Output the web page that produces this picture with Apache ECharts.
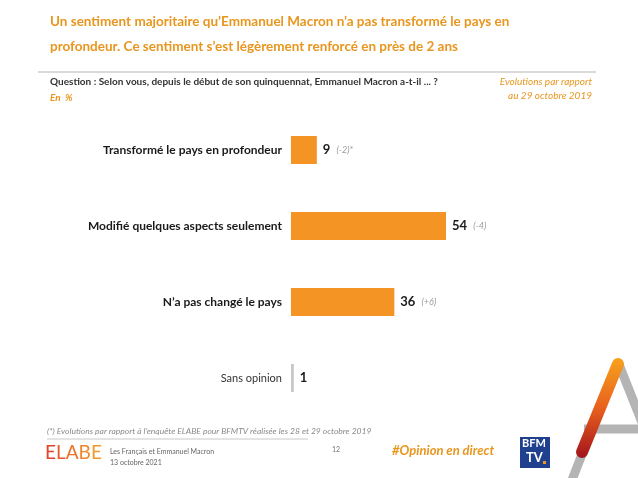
<!DOCTYPE html>
<html>
<head>
<meta charset="utf-8">
<script src="https://cdn.jsdelivr.net/npm/echarts@6/dist/echarts.min.js"></script>
<style>
  html, body { margin: 0; padding: 0; background: #fff; }
  #chart { width: 638px; height: 478px; }
</style>
</head>
<body>
<div id="chart"></div>
<script>
// données
const categories = ['Transformé le pays en profondeur', 'Modifié quelques aspects seulement', 'N’a pas changé le pays', 'Sans opinion'];
const values = [9, 54, 36, 1];
const evolutions = ['(-2)*', '(-4)', '(+6)', ''];

const ORANGE = '#F39425';
const TXT_ORANGE = '#E8961E';
const FONT = 'Lato, "Open Sans", sans-serif';

let chartDom = document.getElementById('chart');
let myChart = echarts.init(chartDom);

let barData = values.map((v, i) => ({
    value: v,
    itemStyle: { color: i === 3 ? '#c9c9c9' : ORANGE }
}));

let option = {
    animation: false,
    backgroundColor: '#fff',
    textStyle: { fontFamily: FONT },
    grid: { left: 291, right: 60, top: 112, height: 304 },
    xAxis: { type: 'value', min: 0, max: 100, show: false },
    yAxis: {
        type: 'category',
        data: categories,
        inverse: true,
        axisLine: { show: false },
        axisTick: { show: false },
        axisLabel: {
            margin: 9,
            formatter: (val, idx) => idx === 3 ? '{n|' + val + '}' : '{b|' + val + '}',
            rich: {
                b: { fontFamily: FONT, fontWeight: 'bold', fontSize: 12, color: '#1a1a1a' },
                n: { fontFamily: FONT, fontSize: 11, color: '#333' }
            }
        }
    },
    series: [{
        type: 'bar',
        data: barData,
        barWidth: 28,
        label: {
            show: true,
            position: 'right',
            distance: 6,
            formatter: p => '{v|' + p.value + '}' + (evolutions[p.dataIndex] ? '  {e|' + evolutions[p.dataIndex] + '}' : ''),
            rich: {
                v: { fontFamily: FONT, fontWeight: 'bold', fontSize: 13, color: '#1a1a1a' },
                e: { fontFamily: FONT, fontStyle: 'italic', fontSize: 9, color: '#9a9a9a' }
            }
        }
    }],
    graphic: [
        // titre
        { type: 'text', x: 50, y: 9, style: { text: 'Un sentiment majoritaire qu’Emmanuel Macron n’a pas transformé le pays en\nprofondeur. Ce sentiment s’est légèrement renforcé en près de 2 ans', fill: TXT_ORANGE, font: 'bold 13.5px ' + FONT, lineHeight: 25 } },
        { type: 'line', shape: { x1: 38, y1: 72, x2: 596, y2: 72 }, style: { stroke: '#b5b5b5', lineWidth: 1 } },
        { type: 'text', x: 50, y: 77, style: { text: 'Question : Selon vous, depuis le début de son quinquennat, Emmanuel Macron a-t-il ... ?', fill: '#333', font: 'bold 10px ' + FONT } },
        { type: 'text', x: 50, y: 93, style: { text: 'En  %', fill: TXT_ORANGE, font: 'italic bold 10px ' + FONT } },
        { type: 'text', x: 592, y: 77, style: { text: 'Evolutions par rapport', fill: TXT_ORANGE, font: 'italic 10px ' + FONT, align: 'right' } },
        { type: 'text', x: 592, y: 91, style: { text: 'au 29 octobre 2019', fill: TXT_ORANGE, font: 'italic 10px ' + FONT, align: 'right' } },
        // pied de page
        { type: 'text', x: 47, y: 427, style: { text: '(*) Evolutions par rapport à l’enquête ELABE pour BFMTV réalisée les 28 et 29 octobre 2019', fill: '#8a8a8a', font: 'italic 8.5px ' + FONT } },
        { type: 'line', shape: { x1: 47, y1: 439, x2: 308, y2: 439 }, style: { stroke: '#c8c8c8', lineWidth: 1 } },
        { type: 'text', x: 45, y: 443, style: {
            text: '{a|E}{b|L}{c|A}{d|B}{e|E}', font: '19px ' + FONT,
            rich: {
                a: { fontFamily: FONT, fontSize: 19, fill: '#e2432a' },
                b: { fontFamily: FONT, fontSize: 19, fill: '#e65a2b' },
                c: { fontFamily: FONT, fontSize: 19, fill: '#eb742c' },
                d: { fontFamily: FONT, fontSize: 19, fill: '#ef872d' },
                e: { fontFamily: FONT, fontSize: 19, fill: '#f29a2e' }
            } } },
        { type: 'text', x: 110, y: 446, style: { text: 'Les Français et Emmanuel Macron\n13 octobre 2021', fill: '#666', font: '7px ' + FONT, lineHeight: 11 } },
        { type: 'text', x: 332, y: 446, style: { text: '12', fill: '#777', font: '7px ' + FONT } },
        { type: 'text', x: 392, y: 444, style: { text: '#Opinion en direct', fill: TXT_ORANGE, font: 'italic bold 13px ' + FONT } },
        // logo BFM TV
        { type: 'rect', shape: { x: 520, y: 437, width: 30, height: 31 }, style: { fill: '#1f3f8f' } },
        { type: 'text', x: 522, y: 438, style: { text: 'BFM', fill: '#fff', font: 'bold 11px ' + FONT } },
        { type: 'text', x: 526, y: 451, style: { text: 'TV', fill: '#fff', font: 'bold 13px ' + FONT } },
        { type: 'rect', shape: { x: 543, y: 461, width: 3, height: 3 }, style: { fill: '#f39425' } },
        // grand A
        { type: 'line', shape: { x1: 572, y1: 480, x2: 618, y2: 362 }, style: { stroke: '#b4b4b4', lineWidth: 9 } },
        { type: 'line', shape: { x1: 618, y1: 362, x2: 645, y2: 430 }, style: { stroke: '#b4b4b4', lineWidth: 9 } },
        { type: 'line', shape: { x1: 584, y1: 429, x2: 640, y2: 429 }, style: { stroke: '#b4b4b4', lineWidth: 9 } },
        { type: 'line', shape: { x1: 618, y1: 364, x2: 582, y2: 452 },
          style: { lineWidth: 12, lineCap: 'round',
            stroke: new echarts.graphic.LinearGradient(0, 0, 0, 1, [{ offset: 0, color: '#f7a21d' }, { offset: 0.5, color: '#e8601e' }, { offset: 1, color: '#a3141c' }]) } }
    ]
};

option && myChart.setOption(option);
window.addEventListener('resize', () => {
    myChart.resize();
});
</script>
</body>
</html>
